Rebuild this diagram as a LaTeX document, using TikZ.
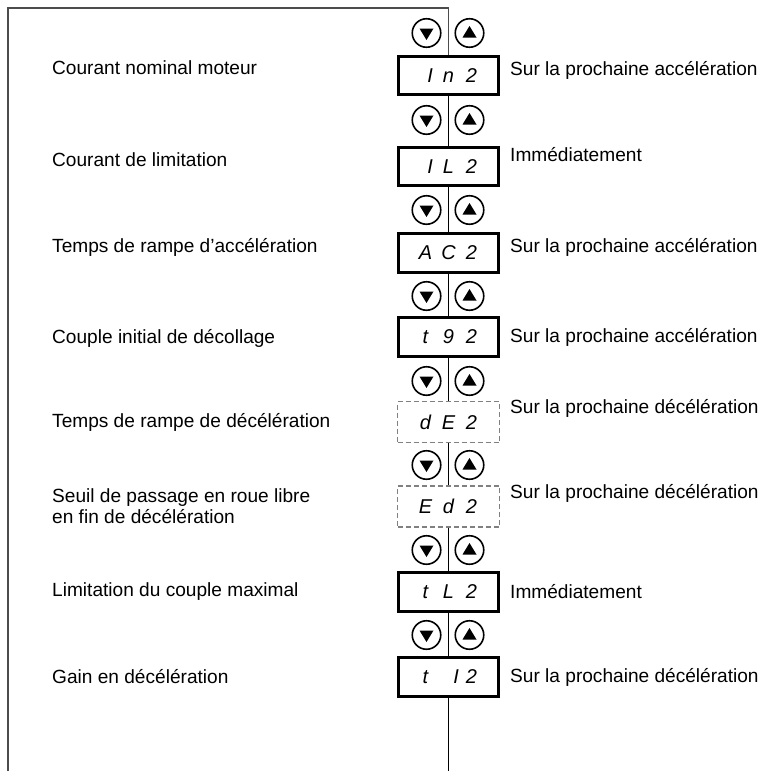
\documentclass[tikz,border=0pt]{standalone}
\usepackage{fontspec}
\setmainfont{Liberation Sans}
\newcommand{\cellc}[1]{\makebox[23pt][c]{#1}}
\newcommand{\cellr}[2]{\makebox[23pt][r]{#1\hspace{#2}}}
\begin{document}
\begin{tikzpicture}[x=1pt,y=-1pt,
  lbl/.style={anchor=west, font=\fontsize{19.1}{20.5}\selectfont, inner sep=0pt, align=left},
  solidbox/.style={draw, line width=2.6pt, minimum width=100pt, minimum height=38.5pt, inner sep=0pt, font=\fontsize{20}{20}\selectfont\itshape},
  dashbox/.style={draw=black!50, line width=1.1pt, dash pattern=on 5pt off 3pt, minimum width=102pt, minimum height=41pt, inner sep=0pt, font=\fontsize{20}{20}\selectfont\itshape},
  btn/.style={circle, draw, line width=1.6pt, minimum size=28.5pt, inner sep=0pt},
  frame/.style={draw=black!70, line width=1.2pt},
  link/.style={draw, line width=0.9pt}]
\useasboundingbox (0,0) rectangle (763,771);
% frame coordinates
\coordinate (tl) at (8,8);
\coordinate (bl) at (8,771);
\coordinate (top) at (448.5,8);
\coordinate (bot) at (448.5,771);
% boxes
\node[solidbox] (b1) at (448.5,75.5)  {\cellr{I}{4pt}\cellc{n}\cellc{2}\hspace{9pt}};
\node[solidbox] (b2) at (448.5,166.5) {\cellr{I}{4pt}\cellc{L}\cellc{2}\hspace{9pt}};
\node[solidbox] (b3) at (448.5,253)   {\cellc{A}\cellc{C}\cellc{2}\hspace{9pt}};
\node[solidbox] (b4) at (448.5,337)   {\cellc{t}\cellc{9}\cellc{2}\hspace{9pt}};
\node[dashbox]  (b5) at (448.5,422)   {\cellc{d}\cellc{E}\cellc{2}\hspace{9pt}};
\node[dashbox]  (b6) at (448.5,506.5) {\cellc{E}\cellc{d}\cellc{2}\hspace{9pt}};
\node[solidbox] (b7) at (448.5,592)   {\cellc{t}\cellc{L}\cellc{2}\hspace{9pt}};
\node[solidbox] (b8) at (448.5,677)   {\cellc{t}\cellr{I}{1pt}\cellc{2}\hspace{9pt}};
% frame and connectors
\draw[frame] (bl) -- (tl) -- (top) -- (b1.north);
\draw[link] (b1.south) -- (b2.north);
\draw[link] (b2.south) -- (b3.north);
\draw[link] (b3.south) -- (b4.north);
\draw[link] (b4.south) -- (b5.north);
\draw[link] (b5.south) -- (b6.north);
\draw[link] (b6.south) -- (b7.north);
\draw[link] (b7.south) -- (b8.north);
\draw[link] (b8.south) -- (bot);
% buttons
\foreach \i/\y in {1/33,2/120,3/210,4/296,5/381,6/465,7/550,8/635} {
  \node[btn] (d\i) at (426.5,\y) {};
  \node[btn] (u\i) at (469.5,\y) {};
  \fill[shift={(d\i.center)}] (-7,-4.5) -- (7,-4.5) -- (0,7) -- cycle;
  \fill[shift={(u\i.center)}] (-7,4.5) -- (7,4.5) -- (0,-7) -- cycle;
}
% left labels
\node[lbl] (l1) at (52,68)  {Courant nominal moteur};
\node[lbl] (l2) at (52,160) {Courant de limitation};
\node[lbl] (l3) at (52,247) {Temps de rampe d’accélération};
\node[lbl] (l4) at (52,338) {Couple initial de décollage};
\node[lbl] (l5) at (52,422) {Temps de rampe de décélération};
\node[lbl] (l6) at (52,506) {Seuil de passage en roue libre\\en fin de décélération};
\node[lbl] (l7) at (52,592) {Limitation du couple maximal};
\node[lbl] (l8) at (52,677) {Gain en décélération};
% right labels
\node[lbl] (r1) at (510,70)  {Sur la prochaine accélération};
\node[lbl] (r2) at (510,155) {Immédiatement};
\node[lbl] (r3) at (510,247) {Sur la prochaine accélération};
\node[lbl] (r4) at (510,337) {Sur la prochaine accélération};
\node[lbl] (r5) at (510,408) {Sur la prochaine décélération};
\node[lbl] (r6) at (510,493) {Sur la prochaine décélération};
\node[lbl] (r7) at (510,592) {Immédiatement};
\node[lbl] (r8) at (510,677) {Sur la prochaine décélération};
\end{tikzpicture}
\end{document}
